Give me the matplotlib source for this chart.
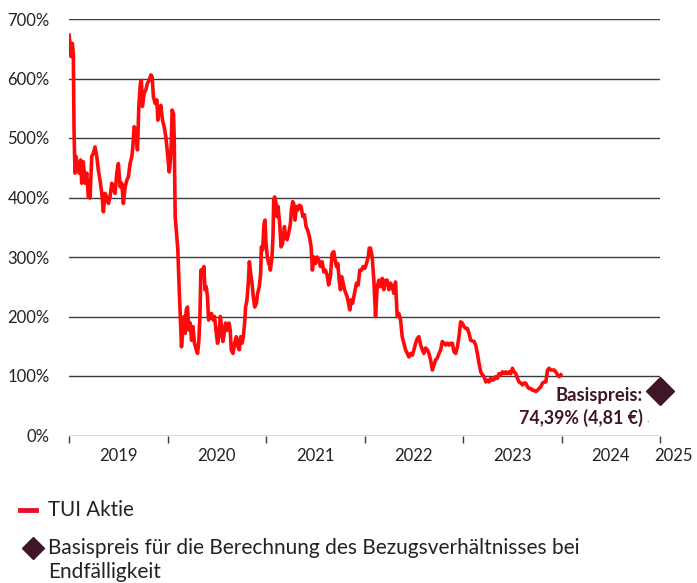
import matplotlib
matplotlib.use("Agg")
import matplotlib.pyplot as plt
from matplotlib.lines import Line2D

plt.rcParams['font.family'] = ['Lato', 'DejaVu Sans']

# ---- data (decimal year, % of base price) ----
years = [2019.000, 2019.010, 2019.020, 2019.034, 2019.044, 2019.051, 2019.061, 2019.071, 2019.084, 2019.102,
         2019.119, 2019.129, 2019.145, 2019.163, 2019.180, 2019.196, 2019.214, 2019.231, 2019.247, 2019.264,
         2019.282, 2019.298, 2019.315, 2019.333, 2019.349, 2019.366, 2019.383, 2019.400, 2019.417, 2019.434,
         2019.451, 2019.468, 2019.485, 2019.501, 2019.519, 2019.536, 2019.552, 2019.570, 2019.587, 2019.603,
         2019.620, 2019.638, 2019.648, 2019.661, 2019.678, 2019.695, 2019.709, 2019.725, 2019.735, 2019.745,
         2019.763, 2019.780, 2019.796, 2019.814, 2019.831, 2019.844, 2019.857, 2019.875, 2019.892, 2019.902,
         2019.915, 2019.933, 2019.949, 2019.966, 2019.983, 2020.000, 2020.017, 2020.027, 2020.037, 2020.047,
         2020.061, 2020.068, 2020.078, 2020.095, 2020.105, 2020.119, 2020.132, 2020.142, 2020.156, 2020.170,
         2020.180, 2020.190, 2020.203, 2020.217, 2020.231, 2020.244, 2020.258, 2020.274, 2020.292, 2020.305,
         2020.319, 2020.329, 2020.339, 2020.356, 2020.370, 2020.380, 2020.393, 2020.406, 2020.417, 2020.431,
         2020.447, 2020.464, 2020.478, 2020.492, 2020.508, 2020.522, 2020.536, 2020.549, 2020.563, 2020.576,
         2020.590, 2020.607, 2020.624, 2020.637, 2020.647, 2020.665, 2020.681, 2020.698, 2020.716, 2020.729,
         2020.742, 2020.756, 2020.770, 2020.783, 2020.793, 2020.807, 2020.820, 2020.831, 2020.844, 2020.858,
         2020.871, 2020.885, 2020.902, 2020.915, 2020.932, 2020.946, 2020.953, 2020.966, 2020.980, 2020.990,
         2021.000, 2021.014, 2021.027, 2021.041, 2021.044, 2021.061, 2021.071, 2021.078, 2021.088, 2021.102,
         2021.112, 2021.122, 2021.139, 2021.153, 2021.169, 2021.187, 2021.200, 2021.214, 2021.230, 2021.248,
         2021.258, 2021.271, 2021.281, 2021.295, 2021.309, 2021.322, 2021.339, 2021.356, 2021.373, 2021.390,
         2021.407, 2021.423, 2021.441, 2021.458, 2021.471, 2021.485, 2021.502, 2021.519, 2021.535, 2021.553,
         2021.570, 2021.586, 2021.603, 2021.620, 2021.636, 2021.654, 2021.671, 2021.688, 2021.702, 2021.715,
         2021.729, 2021.743, 2021.756, 2021.769, 2021.783, 2021.797, 2021.810, 2021.824, 2021.837, 2021.851,
         2021.865, 2021.878, 2021.891, 2021.905, 2021.919, 2021.936, 2021.952, 2021.970, 2021.987, 2022.003,
         2022.020, 2022.038, 2022.048, 2022.061, 2022.078, 2022.095, 2022.112, 2022.129, 2022.146, 2022.163,
         2022.180, 2022.196, 2022.214, 2022.231, 2022.247, 2022.264, 2022.281, 2022.298, 2022.315, 2022.332,
         2022.349, 2022.366, 2022.383, 2022.400, 2022.417, 2022.434, 2022.451, 2022.468, 2022.485, 2022.502,
         2022.519, 2022.536, 2022.552, 2022.570, 2022.587, 2022.603, 2022.620, 2022.638, 2022.654, 2022.671,
         2022.689, 2022.705, 2022.722, 2022.739, 2022.756, 2022.773, 2022.790, 2022.807, 2022.824, 2022.841,
         2022.857, 2022.875, 2022.892, 2022.908, 2022.926, 2022.943, 2022.959, 2022.976, 2022.993, 2023.010,
         2023.027, 2023.044, 2023.061, 2023.078, 2023.112, 2023.129, 2023.146, 2023.163, 2023.180, 2023.197,
         2023.213, 2023.231, 2023.248, 2023.264, 2023.281, 2023.298, 2023.315, 2023.332, 2023.349, 2023.366,
         2023.383, 2023.400, 2023.417, 2023.434, 2023.451, 2023.468, 2023.485, 2023.502, 2023.518, 2023.536,
         2023.553, 2023.569, 2023.587, 2023.604, 2023.620, 2023.637, 2023.654, 2023.671, 2023.688, 2023.705,
         2023.722, 2023.739, 2023.756, 2023.773, 2023.790, 2023.807, 2023.824, 2023.841, 2023.858, 2023.874,
         2023.892, 2023.909, 2023.925, 2023.942, 2023.959, 2023.976, 2023.993]
tui_pct = [673, 659, 637, 659, 642, 513, 441, 469, 457, 441,
           463, 424, 460, 424, 441, 401, 399, 469, 474, 485,
           469, 446, 429, 407, 376, 407, 401, 390, 401, 424,
           413, 407, 441, 457, 418, 424, 390, 418, 429, 435,
           457, 469, 485, 519, 513, 480, 553, 592, 597, 553,
           575, 581, 592, 597, 606, 603, 569, 558, 564, 530,
           547, 555, 530, 519, 502, 474, 443, 457, 485, 547,
           541, 502, 368, 334, 312, 245, 189, 149, 177, 200,
           172, 211, 216, 177, 189, 160, 183, 155, 144, 138,
           160, 200, 278, 278, 284, 245, 250, 233, 194, 200,
           205, 194, 200, 177, 155, 166, 200, 183, 158, 172,
           189, 177, 189, 177, 144, 138, 155, 166, 149, 144,
           166, 155, 166, 189, 216, 228, 256, 292, 273, 256,
           233, 216, 222, 239, 250, 273, 317, 312, 356, 362,
           323, 300, 289, 284, 278, 300, 334, 396, 401, 390,
           368, 385, 356, 317, 323, 351, 334, 329, 340, 356,
           379, 393, 390, 362, 385, 379, 387, 385, 368, 371,
           351, 345, 334, 317, 278, 300, 289, 300, 295, 284,
           292, 275, 278, 270, 253, 267, 306, 309, 295, 284,
           289, 261, 245, 267, 256, 245, 239, 233, 222, 211,
           228, 222, 233, 245, 256, 253, 278, 278, 284, 281,
           289, 300, 315, 315, 300, 261, 200, 250, 261, 250,
           264, 245, 261, 261, 245, 256, 250, 239, 258, 200,
           205, 194, 166, 155, 144, 138, 132, 138, 135, 144,
           155, 163, 166, 152, 144, 138, 147, 144, 138, 127,
           110, 118, 127, 130, 138, 144, 158, 155, 152, 155,
           152, 155, 155, 141, 138, 149, 166, 191, 189, 183,
           180, 180, 172, 160, 158, 152, 138, 121, 107, 102,
           99, 90, 93, 90, 96, 93, 94, 99, 96, 104,
           102, 107, 104, 107, 104, 107, 104, 113, 107, 104,
           96, 90, 88, 85, 88, 88, 82, 79, 79, 76,
           76, 74, 76, 79, 82, 88, 90, 90, 110, 113,
           110, 110, 110, 107, 102, 99, 102]

base_year = 2025.0
base_pct = 74.39

year_ticks = [2019, 2020, 2021, 2022, 2023, 2024, 2025]
year_labels = ["2019", "2020", "2021", "2022", "2023", "2024", "2025"]
y_ticks = [0, 100, 200, 300, 400, 500, 600, 700]
y_labels = ["0%", "100%", "200%", "300%", "400%", "500%", "600%", "700%"]

line_red = "#ff0a0a"
legend_red = "#e4112b"
dark = "#3e1628"
text_col = "#222222"

W, H = 697, 583
fig = plt.figure(figsize=(W / 100, H / 100), dpi=100)
ax = fig.add_axes([69 / W, 1 - 435.5 / H, (660 - 69) / W, (435.5 - 19) / H])

ax.set_xlim(year_ticks[0], year_ticks[-1])
ax.set_ylim(y_ticks[0], y_ticks[-1])

for s in ax.spines.values():
    s.set_visible(False)

ax.set_yticks(y_ticks)
ax.set_yticklabels(y_labels)
ax.tick_params(axis='y', length=0, pad=14, labelsize=12, labelcolor=text_col)
ax.grid(axis='y', color='#3a3a3a', linewidth=1.0)
ax.set_axisbelow(True)

ax.set_xticks(year_ticks)
ax.set_xticklabels([])
ax.tick_params(axis='x', which='major', length=5, width=1, color='#3a3a3a', direction='out')
mid = [y + 0.5 for y in year_ticks[:-1]]
ax.set_xticks(mid, minor=True)
ax.set_xticklabels(year_labels[:-1], minor=True)
ax.tick_params(axis='x', which='minor', length=0, pad=9, labelsize=12, labelcolor=text_col)
ax.annotate(year_labels[-1], xy=(year_ticks[-1] + 0.14, 0), xycoords=ax.get_xaxis_transform(),
            xytext=(0, -9), textcoords='offset points',
            ha='center', va='top', fontsize=12, color=text_col)

ax.plot(years, tui_pct, color=line_red, linewidth=2.6, solid_joinstyle='round', zorder=3)

ax.plot([base_year], [base_pct], marker='D', markersize=14, color=dark, clip_on=False, zorder=4)
ax.annotate("Basispreis:", xy=(643 / W, 1 - 395 / H), xycoords='figure fraction',
            ha='right', va='center', fontsize=13.3, fontweight='bold', color=dark)
ax.annotate("74,39% (4,81 €)", xy=(643 / W, 1 - 418 / H), xycoords='figure fraction',
            ha='right', va='center', fontsize=12.8, fontweight='bold', color=dark)
ax.annotate(".", xy=(648 / W, 1 - 419 / H), xycoords='figure fraction',
            ha='center', va='center', fontsize=8, color='#888888')

# legend (manual)
fig.add_artist(Line2D([20 / W, 36 / W], [1 - 510 / H, 1 - 510 / H], color=legend_red, linewidth=3.5,
                      transform=fig.transFigure))
fig.text(48 / W, 1 - 510 / H, "TUI Aktie", ha='left', va='center', fontsize=14.8, color=text_col)
fig.add_artist(Line2D([33 / W], [1 - 548 / H], marker='D', markersize=11.5, color=dark,
                      linestyle='none', transform=fig.transFigure))
fig.text(48 / W, 1 - 548 / H, "Basispreis für die Berechnung des Bezugsverhältnisses bei",
         ha='left', va='center', fontsize=15, color=text_col)
fig.text(48 / W, 1 - 572 / H, "Endfälligkeit", ha='left', va='center', fontsize=15, color=text_col)

fig.savefig("out.png", dpi=100)
